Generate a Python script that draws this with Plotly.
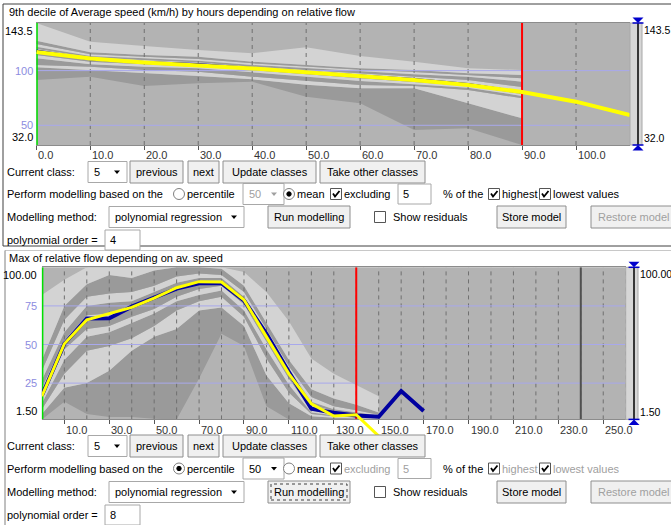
import plotly.graph_objects as go

W, H = 671, 525
FONT = "Liberation Sans"

# ---------------- data: top chart (9th decile of average speed vs relative flow) ----------------
top_x = [0, 10, 20, 30, 40, 50, 60, 70, 80, 90]
top_p0 = [91.4, 94.4, 85.9, 88.4, 89.9, 76.1, 70.1, 45.7, 47.2, 32.0]
top_p10 = [103.0, 100.5, 97.5, 95.1, 92.0, 87.0, 83.8, 83.8, 70.1, 56.4]
top_p20 = [105.1, 103.5, 100.5, 99.0, 94.4, 90.5, 86.8, 85.9, 82.3, 74.7]
top_p30 = [111.2, 105.7, 103.5, 102.1, 98.4, 94.4, 90.5, 87.5, 84.4, 76.8]
top_p40 = [114.3, 108.1, 105.7, 103.5, 100.5, 96.5, 93.0, 89.5, 86.0, 78.5]
top_p50 = [117.5, 110.5, 107.5, 105.5, 102.0, 98.5, 95.5, 92.0, 87.5, 80.5]
top_p60 = [120.0, 112.1, 109.7, 107.6, 103.6, 100.5, 97.5, 94.5, 91.5, 85.0]
top_p70 = [121.8, 113.3, 111.2, 109.0, 105.1, 102.1, 99.0, 96.6, 94.4, 89.9]
top_p80 = [124.3, 114.9, 112.7, 110.6, 106.7, 103.5, 100.8, 98.8, 96.0, 93.0]
top_p90 = [127.3, 116.7, 114.3, 112.7, 108.1, 105.1, 102.1, 100.5, 97.5, 96.0]
top_p100 = [143.5, 126.4, 122.5, 118.8, 115.8, 121.3, 113.3, 108.1, 102.1, 100.5]
top_mean = [118.2, 110.6, 107.6, 105.7, 102.1, 98.4, 95.3, 92.0, 87.5, 80.2]
top_model_x = [0, 10, 20, 30, 40, 50, 60, 70, 80, 90, 100, 110]
top_model = [117.0, 111.0, 107.5, 104.9, 102.0, 98.6, 95.0, 91.4, 86.8, 80.5, 71.6, 59.4]
top_xticks = [0, 10, 20, 30, 40, 50, 60, 70, 80, 90, 100]
top_hlines = [100, 50]
top_limit = 90
top_yrange = [32.0, 143.5]
top_xmax = 110

# ---------------- data: bottom chart (max of relative flow vs average speed) ----------------
bot_x = [0, 10, 20, 30, 40, 50, 60, 70, 80, 90, 100, 110, 120, 130, 140, 150]
bot_p0 = [1.5, 13, 5, 3, 3, 2, 1.5, 28, 57, 49, 10, 1.5, 1.5, 1.5, 1.5, 1.5]
bot_p10 = [5, 22, 25, 33, 46, 55, 60, 72, 74, 62, 30, 12, 3.5, 2.5, 2.2, 2.0]
bot_p20 = [8, 31, 46, 49, 54, 62, 72, 78, 81, 68, 41, 19, 5, 3.5, 2.7, 2.3]
bot_p30 = [12, 40, 55, 58, 64, 70, 78, 82, 85, 72, 47, 24, 6, 4.2, 3.2, 2.6]
bot_p40 = [15, 47, 60, 62, 68, 73, 81, 86, 88, 76, 52, 28, 7.5, 5, 3.7, 2.9]
bot_p50 = [18, 50.5, 66, 67, 73.5, 80, 86, 89.5, 90, 78.5, 56, 32, 9, 5.8, 4.2, 3.2]
bot_p60 = [22, 53, 69, 70, 75.5, 81.5, 87.5, 91, 91.5, 80, 57, 33, 11, 7, 5, 3.6]
bot_p70 = [27, 58, 75, 77, 78, 84, 90, 93, 93, 81, 58, 34, 13, 8, 6, 4]
bot_p80 = [33, 66, 81, 83, 84, 88, 94, 96, 95, 84, 60, 36, 16, 10, 7.5, 4.5]
bot_p90 = [40, 75, 89, 95, 93, 98, 100, 100, 99, 88, 64, 40, 21, 15, 11, 6]
bot_p100 = [82, 92, 100, 100, 100, 100, 100, 100, 100, 97, 84, 65, 41, 31, 24, 16.5]
bot_mean_x = [0, 10, 20, 30, 40, 50, 60, 70, 80, 90, 100, 110, 120, 130, 140, 150, 160, 170]
bot_mean = [17.0, 50.5, 66.8, 67.0, 74.5, 80.4, 86.2, 89.6, 89.8, 78.6, 57.0, 32.2, 8.4, 5.8, 4.1, 3.2, 19.9, 6.9]
bot_model_x = [0, 10, 20, 30, 40, 50, 60, 70, 80, 90, 100, 110, 120, 130, 140, 150]
bot_model = [16.5, 50.5, 66.0, 70.2, 74.0, 80.0, 86.8, 90.7, 90.5, 79.0, 55.0, 31.0, 11.6, 3.7, 4.5, -9.3]
bot_xgrid = list(range(10, 261, 10))
bot_xlabels = [10, 30, 50, 70, 90, 110, 130, 150, 170, 190, 210, 230, 250]
bot_hlines = [75, 50, 25]
bot_limit = 140
bot_marker = 240
bot_yrange = [1.5, 100.0]
bot_xmax = 260

# ---------------- styles ----------------
BG, LIGHT, DARK = '#b3b3b3', '#d3d3d3', '#9a9a9a'
GRID = '#707070'
LAV = '#a8a8ec'
LAVTXT = '#8c8ce0'
BLUE = '#0000a0'
YEL = '#ffff00'
GRAYTXT = '#a0a0a0'

# pixel geometry of the two plot areas
TOP_L, TOP_R, TOP_T, TOP_B = 36.3, 630.0, 23.0, 145.0
BOT_L, BOT_R, BOT_T, BOT_B = 41.9, 625.7, 267.3, 419.4
BOT_OVER = 440.0


def px(x):
    return x / W


def py(y):
    return 1 - y / H


fig = go.Figure()


def add_bands(xs, bounds, xa, ya):
    for i, b in enumerate(bounds):
        col = DARK if i % 2 == 1 else LIGHT
        fig.add_trace(go.Scatter(x=xs, y=b, mode='lines', line=dict(width=0, color=col),
                                 fill=None if i == 0 else 'tonexty', fillcolor=col,
                                 xaxis=xa, yaxis=ya, hoverinfo='skip', showlegend=False))


def vlines(vals, lo, hi, color, width, dash, xa, ya):
    xs, ys = [], []
    for v in vals:
        xs += [v, v, None]
        ys += [lo, hi, None]
    fig.add_trace(go.Scatter(x=xs, y=ys, mode='lines', line=dict(color=color, width=width, dash=dash),
                             xaxis=xa, yaxis=ya, hoverinfo='skip', showlegend=False))


def hlines(vals, lo, hi, color, width, xa, ya):
    xs, ys = [], []
    for v in vals:
        xs += [lo, hi, None]
        ys += [v, v, None]
    fig.add_trace(go.Scatter(x=xs, y=ys, mode='lines', line=dict(color=color, width=width),
                             xaxis=xa, yaxis=ya, hoverinfo='skip', showlegend=False))


def line(xs, ys, color, width, xa, ya):
    fig.add_trace(go.Scatter(x=xs, y=ys, mode='lines', line=dict(color=color, width=width),
                             xaxis=xa, yaxis=ya, hoverinfo='skip', showlegend=False))


# ---- top chart ----
add_bands(top_x, [top_p0, top_p10, top_p20, top_p30, top_p40, top_p50,
                  top_p60, top_p70, top_p80, top_p90, top_p100], 'x', 'y')
vlines(top_xticks[1:], top_yrange[0], top_yrange[1], GRID, 1, '4px,4px', 'x', 'y')
hlines(top_hlines, 0, top_xmax, LAV, 1, 'x', 'y')
vlines([0], top_yrange[0], top_yrange[1], '#00e000', 3, 'solid', 'x', 'y')
vlines([top_limit], top_yrange[0], top_yrange[1], '#ff0000', 2, 'solid', 'x', 'y')
line(top_x, top_mean, BLUE, 2.5, 'x', 'y')
line(top_model_x, top_model, YEL, 4, 'x', 'y')

# ---- bottom chart ----
add_bands(bot_x, [bot_p0, bot_p10, bot_p20, bot_p30, bot_p40, bot_p50,
                  bot_p60, bot_p70, bot_p80, bot_p90, bot_p100], 'x2', 'y2')
vlines(bot_xgrid, bot_yrange[0], bot_yrange[1], GRID, 1, '4px,4px', 'x2', 'y2')
hlines(bot_hlines, 0, bot_xmax, LAV, 1, 'x2', 'y2')
vlines([bot_marker], bot_yrange[0], bot_yrange[1], '#505050', 2, 'solid', 'x2', 'y2')
vlines([0], bot_yrange[0], bot_yrange[1], '#00e000', 3, 'solid', 'x2', 'y2')
vlines([bot_limit], bot_yrange[0], bot_yrange[1], '#ff0000', 2, 'solid', 'x2', 'y2')
line(bot_mean_x, bot_mean, BLUE, 4, 'x2', 'y2')
line(bot_model_x, bot_model, YEL, 3, 'x3', 'y3')

# overflow axis for the model line (same scale as y2, extended below)
ppu = (BOT_B - BOT_T) / (bot_yrange[1] - bot_yrange[0])
y3_min = bot_yrange[0] - (BOT_OVER - BOT_B) / ppu

shapes = []
annots = []

# plot backgrounds
for xr, yr in (('x', 'y'), ('x2', 'y2')):
    shapes.append(dict(type='rect', xref=xr + ' domain', yref=yr + ' domain', x0=0, x1=1, y0=0, y1=1,
                       fillcolor=BG, line=dict(width=0), layer='below'))


def rect(x0, y0, x1, y1, fill='white', color='#9a9a9a', lw=1, dash='solid'):
    shapes.append(dict(type='rect', xref='paper', yref='paper', x0=px(x0), x1=px(x1), y0=py(y1), y1=py(y0),
                       fillcolor=fill, line=dict(color=color, width=lw, dash=dash), layer='above'))


def seg(x0, y0, x1, y1, color, lw=1):
    shapes.append(dict(type='line', xref='paper', yref='paper', x0=px(x0), x1=px(x1), y0=py(y0), y1=py(y1),
                       line=dict(color=color, width=lw), layer='above'))


def poly(pts, fill, color=None, lw=0):
    d = 'M ' + ' L '.join(f'{px(a):.5f},{py(b):.5f}' for a, b in pts) + ' Z'
    shapes.append(dict(type='path', xref='paper', yref='paper', path=d, fillcolor=fill,
                       line=dict(color=color or fill, width=lw), layer='above'))


def openpath(pts, color, lw):
    d = 'M ' + ' L '.join(f'{px(a):.5f},{py(b):.5f}' for a, b in pts)
    shapes.append(dict(type='path', xref='paper', yref='paper', path=d,
                       line=dict(color=color, width=lw), layer='above'))


def circle(cx, cy, r, fill, color, lw=1):
    shapes.append(dict(type='circle', xref='paper', yref='paper', x0=px(cx - r), x1=px(cx + r),
                       y0=py(cy + r), y1=py(cy - r), fillcolor=fill, line=dict(color=color, width=lw),
                       layer='above'))


def label(x, y, s, color='#000000', size=11, xanchor='left'):
    annots.append(dict(xref='paper', yref='paper', x=px(x), y=py(y), text=s, showarrow=False,
                       xanchor=xanchor, yanchor='middle', font=dict(size=size, color=color, family=FONT),
                       borderpad=0))


def button(x0, x1, yc, s, color='#000000', focus=False):
    rect(x0, yc - 11, x1, yc + 11, fill='#f0f0f0', color='#8e8e8e')
    if focus:
        rect(x0 + 3, yc - 8, x1 - 3, yc + 8, fill='rgba(0,0,0,0)', color='#404040', dash='dot')
    label((x0 + x1) / 2, yc, s, color=color, xanchor='center')


def arrow(cx, cy, color='#000000'):
    poly([(cx - 3, cy - 1.5), (cx + 3, cy - 1.5), (cx, cy + 2)], color)


def dropdown(x0, x1, yc, s, enabled=True):
    col = '#000000' if enabled else GRAYTXT
    rect(x0, yc - 10.5, x1, yc + 10.5, fill='white', color='#a8a8a8')
    label(x0 + 5, yc, s, color=col)
    arrow(x1 - 10, yc, color=col)


def textfield(x0, x1, yc, s, enabled=True):
    rect(x0, yc - 10, x1, yc + 10, fill='white', color='#a8a8a8')
    label(x0 + 4, yc, s, color='#000000' if enabled else GRAYTXT)


def checkbox(cx, cy, checked=True):
    rect(cx - 5.5, cy - 5.5, cx + 5.5, cy + 5.5, fill='white', color='#555555')
    if checked:
        openpath([(cx - 3, cy - 0.5), (cx - 1, cy + 2.5), (cx + 3.5, cy - 3)], '#000000', 1.8)


def radio(cx, cy, selected):
    circle(cx, cy, 5.5, 'white', '#808080')
    if selected:
        circle(cx, cy, 2.2, '#000000', '#000000')


def controls(r1, r2, r3, r4, bottom, order):
    label(6, r1, 'Current class:')
    dropdown(88, 127, r1, '5')
    button(130, 183, r1, 'previous')
    button(188, 219, r1, 'next')
    button(223, 316, r1, 'Update classes')
    button(320, 425, r1, 'Take other classes')

    dis = GRAYTXT if bottom else '#000000'
    label(6, r2, 'Perform modelling based on the')
    radio(179, r2, selected=bottom)
    label(186, r2, 'percentile')
    dropdown(243, 284, r2, '50', enabled=bottom)
    radio(289, r2, selected=not bottom)
    label(296, r2, 'mean')
    checkbox(336, r2)
    label(343, r2, 'excluding', color=dis)
    textfield(398, 431, r2, '5', enabled=not bottom)
    label(442, r2, '% of the')
    checkbox(494, r2)
    label(501, r2, 'highest', color=dis)
    checkbox(545, r2)
    label(552, r2, 'lowest values', color=dis)

    label(6, r3, 'Modelling method:')
    dropdown(109, 244, r3, 'polynomial regression')
    button(268, 350, r3, 'Run modelling', focus=bottom)
    checkbox(380, r3, checked=False)
    label(392, r3, 'Show residuals')
    button(497, 566, r3, 'Store model')
    button(591, 676, r3, 'Restore model', color=GRAYTXT)

    label(6, r4, 'polynomial order =')
    textfield(105, 140, r4, order)


def slider(x0, x1, xc, t, b, lab_top, lab_bot, lx):
    rect(x0, t, x1, b, fill='#d6d6d6', color='#a8a8a8')
    seg(xc, t, xc, b, '#000000', 1.5)
    poly([(xc - 5.5, t - 5.5), (xc + 5.5, t - 5.5), (xc, t)], '#0000cc')
    seg(xc - 5.5, t, xc + 5.5, t, '#0000cc', 1.5)
    poly([(xc - 5.5, b + 5.5), (xc + 5.5, b + 5.5), (xc, b)], '#0000cc')
    seg(xc - 5.5, b, xc + 5.5, b, '#0000cc', 1.5)
    annots.append(dict(xref='paper', yref='paper', x=px(lx), y=py(t), text=lab_top, showarrow=False,
                       xanchor='left', yanchor='top', borderpad=0,
                       font=dict(size=10.5, color='#000', family=FONT)))
    annots.append(dict(xref='paper', yref='paper', x=px(lx), y=py(b), text=lab_bot, showarrow=False,
                       xanchor='left', yanchor='bottom', borderpad=0,
                       font=dict(size=10.5, color='#000', family=FONT)))


# panel frames
rect(3, 4, 676, 246, fill='rgba(0,0,0,0)', color='#404040')
seg(5, 250.5, 676, 250.5, '#c8c8c8')
seg(5, 250.5, 5, 530, '#808080')

# titles
label(8, 12, '9th decile of Average speed (km/h) by hours depending on relative flow')
label(8, 258, 'Max of relative flow depending on av. speed')

# top axis labels
for v in top_xticks:
    annots.append(dict(xref='x', yref='paper', x=v, y=py(155), text=f'{v:.1f}', showarrow=False,
                       xanchor='left', yanchor='middle', xshift=0,
                       font=dict(size=11, color='#333333', family=FONT)))
top_ylabels = [(top_yrange[1], f'{top_yrange[1]:.1f}', 'top', '#000000'),
               (top_hlines[0], f'{top_hlines[0]}', 'middle', LAVTXT),
               (top_hlines[1], f'{top_hlines[1]}', 'middle', LAVTXT),
               (top_yrange[0], f'{top_yrange[0]:.1f}', 'bottom', '#000000')]
for v, s, anc, c in top_ylabels:
    annots.append(dict(xref='paper', yref='y', x=px(35), y=v, text=s, showarrow=False,
                       xanchor='right', yanchor=anc, font=dict(size=11, color=c, family=FONT)))

# bottom axis labels
for v in bot_xlabels:
    annots.append(dict(xref='x2', yref='paper', x=v, y=py(430), text=f'{v:.1f}', showarrow=False,
                       xanchor='left', yanchor='middle',
                       font=dict(size=11, color='#333333', family=FONT)))
bot_ylabels = [(bot_yrange[1], f'{bot_yrange[1]:.2f}', 'top', '#000000')] + \
              [(v, f'{v}', 'middle', LAVTXT) for v in bot_hlines] + \
              [(bot_yrange[0], f'{bot_yrange[0]:.2f}', 'bottom', '#000000')]
for v, s, anc, c in bot_ylabels:
    annots.append(dict(xref='paper', yref='y2', x=px(39), y=v, text=s, showarrow=False,
                       xanchor='right', yanchor=anc, font=dict(size=11, color=c, family=FONT)))

# range sliders on the right
slider(630, 642, 638, TOP_T, TOP_B, f'{top_yrange[1]:.1f}', f'{top_yrange[0]:.1f}', 643)
slider(625.7, 638, 634, BOT_T, BOT_B, f'{bot_yrange[1]:.2f}', f'{bot_yrange[0]:.2f}', 638.5)

# control rows
controls(172, 194, 217, 240, False, '4')
controls(446, 468.5, 492, 515, True, '8')

axis_common = dict(showgrid=False, zeroline=False, showticklabels=False, fixedrange=True)
fig.update_layout(
    width=W, height=H,
    margin=dict(l=0, r=0, t=0, b=0),
    paper_bgcolor='white', plot_bgcolor='rgba(0,0,0,0)',
    showlegend=False,
    font=dict(family=FONT, size=11, color='#000'),
    xaxis=dict(domain=[px(TOP_L), px(TOP_R)], range=[0, top_xmax], anchor='y',
               ticks='outside', tickvals=top_xticks, ticklen=4, tickcolor='#555555',
               showline=True, mirror=True, linecolor='#8c8c8c', **axis_common),
    yaxis=dict(domain=[py(TOP_B), py(TOP_T)], range=top_yrange, anchor='x', **axis_common),
    xaxis2=dict(domain=[px(BOT_L), px(BOT_R)], range=[0, bot_xmax], anchor='y2',
                ticks='outside', tickvals=bot_xlabels, ticklen=4, tickcolor='#555555',
                showline=True, mirror=True, linecolor='#8c8c8c', **axis_common),
    yaxis2=dict(domain=[py(BOT_B), py(BOT_T)], range=bot_yrange, anchor='x2', **axis_common),
    xaxis3=dict(domain=[px(BOT_L), px(BOT_R)], range=[0, bot_xmax], anchor='y3', visible=False,
                fixedrange=True),
    yaxis3=dict(domain=[py(BOT_OVER), py(BOT_T)], range=[y3_min, bot_yrange[1]], anchor='x3',
                visible=False, fixedrange=True),
    shapes=shapes,
    annotations=annots,
)

fig.write_html("out.html", config={'displayModeBar': False},
               post_script="document.body.style.margin='0';document.body.style.overflow='hidden';")
